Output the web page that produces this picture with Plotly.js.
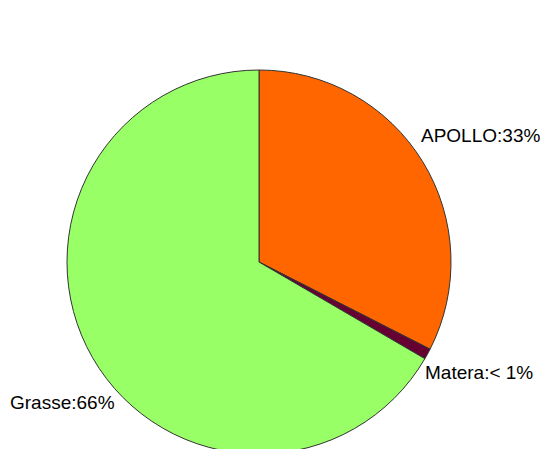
<!DOCTYPE html>
<html>
<head>
<meta charset="utf-8">
<script src="https://cdn.plot.ly/plotly-3.0.1.min.js"></script>
<style>
html, body { margin: 0; padding: 0; overflow: hidden; background: #fff; }
#chart { width: 541px; height: 470px; }
</style>
</head>
<body>
<div id="chart"></div>
<script>
var labels = ["APOLLO", "Matera", "Grasse"];
var values = [32.5, 0.9, 66.6];
var displayText = ["APOLLO:33%", "Matera:< 1%", "Grasse:66%"];
var colors = ["#FF6600", "#660033", "#99FF66"];

var labelPos = [
  {x: 0.916, y: 0.829},
  {x: 0.928, y: 0.211},
  {x: -0.154, y: 0.133}
];

var annotations = displayText.map(function (t, i) {
  return {
    text: t, xref: "paper", yref: "paper",
    x: labelPos[i].x, y: labelPos[i].y,
    xanchor: "left", yanchor: "middle",
    showarrow: false,
    font: {family: "Liberation Sans, Arial, sans-serif", size: 19, color: "#000"}
  };
});

var trace = {
  type: "pie",
  labels: labels,
  values: values,
  sort: false,
  direction: "clockwise",
  rotation: 0,
  textinfo: "none",
  hoverinfo: "label+percent",
  marker: {colors: colors, line: {color: "#333333", width: 1}},
  showlegend: false
};

var layout = {
  width: 541, height: 470,
  margin: {l: 67, r: 90, t: 70, b: 16},
  paper_bgcolor: "#fff",
  showlegend: false,
  annotations: annotations
};

Plotly.newPlot("chart", [trace], layout, {displayModeBar: false, staticPlot: true});
</script>
</body>
</html>
